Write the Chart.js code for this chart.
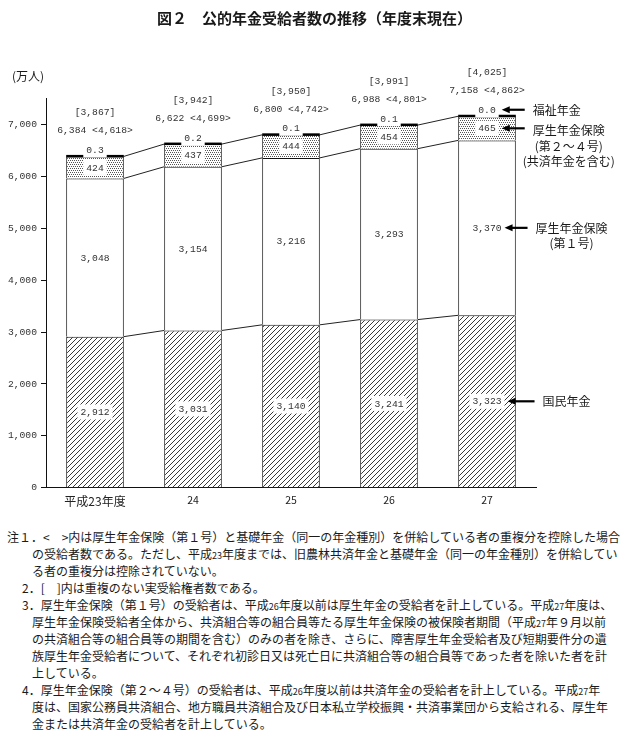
<!DOCTYPE html>
<html lang="ja">
<head>
<meta charset="utf-8">
<title>図２ 公的年金受給者数の推移</title>
<script src="https://cdn.jsdelivr.net/npm/chart.js@4.4.1/dist/chart.umd.min.js"></script>
<style>
  html, body { margin: 0; padding: 0; background: #fff; }
  body { width: 629px; height: 740px; position: relative; overflow: hidden;
         font-family: "Noto Sans CJK JP", sans-serif; color: #1a1a1a; }
  #wrap { position: absolute; left: 0; top: 0; width: 629px; height: 515px; }
  #title { position: absolute; top: 7px; left: 0; width: 629px; text-align: center;
           font-size: 15px; font-weight: 700; line-height: 22px; }
  #unit { position: absolute; left: 12px; top: 67px; font-size: 12px; line-height: 17px; }
  #notes { position: absolute; left: 0; top: 528px; font-size: 12px; }
  #notes div { white-space: nowrap; height: 17px; line-height: 17px; }
  .n0 { padding-left: 7px; }
  .n1 { padding-left: 22px; }
  .nc { padding-left: 32px; }
  .sm { font-size: 9px; line-height: 1; }
</style>
</head>
<body>
<div id="wrap"><canvas id="chart" width="629" height="515"></canvas></div>
<div id="title">図２　公的年金受給者数の推移（年度末現在）</div>
<div id="unit">(万人)</div>
<div id="notes">
  <div class="n0">注１．&lt;　&gt;内は厚生年金保険（第１号）と基礎年金（同一の年金種別）を併給している者の重複分を控除した場合</div>
  <div class="nc">の受給者数である。ただし、平成<span class="sm">23</span>年度までは、旧農林共済年金と基礎年金（同一の年金種別）を併給してい</div>
  <div class="nc">る者の重複分は控除されていない。</div>
  <div class="n1">2．[　]内は重複のない実受給権者数である。</div>
  <div class="n1">3．厚生年金保険（第１号）の受給者は、平成<span class="sm">26</span>年度以前は厚生年金の受給者を計上している。平成<span class="sm">27</span>年度は、</div>
  <div class="nc">厚生年金保険受給者全体から、共済組合等の組合員等たる厚生年金保険の被保険者期間（平成<span class="sm">27</span>年９月以前</div>
  <div class="nc">の共済組合等の組合員等の期間を含む）のみの者を除き、さらに、障害厚生年金受給者及び短期要件分の遺</div>
  <div class="nc">族厚生年金受給者について、それぞれ初診日又は死亡日に共済組合等の組合員等であった者を除いた者を計</div>
  <div class="nc">上している。</div>
  <div class="n1">4．厚生年金保険（第２～４号）の受給者は、平成<span class="sm">26</span>年度以前は共済年金の受給者を計上している。平成<span class="sm">27</span>年</div>
  <div class="nc">度は、国家公務員共済組合、地方職員共済組合及び日本私立学校振興・共済事業団から支給される、厚生年</div>
  <div class="nc">金または共済年金の受給者を計上している。</div>
</div>
<script>
// data (万人)
const years = ['平成23年度', '24', '25', '26', '27'];
const kokumin = [2912, 3031, 3140, 3241, 3323];
const kosei1 = [3048, 3154, 3216, 3293, 3370];
const kosei24 = [424, 437, 444, 454, 465];
const fukushi = [0.3, 0.2, 0.1, 0.1, 0.0];
const totals = [6384, 6622, 6800, 6988, 7158];
const dedup = [4618, 4699, 4742, 4801, 4862];
const actual = [3867, 3942, 3950, 3991, 4025];
const yTicks = [0, 1000, 2000, 3000, 4000, 5000, 6000, 7000];
const yMax = 7500;

// callouts on the right, pointing at the last bar
const callouts = [
  { ds: 3, lines: ['福祉年金'] },
  { ds: 2, lines: ['厚生年金保険', '(第２～４号)', '(共済年金を含む)'] },
  { ds: 1, lines: ['厚生年金保険', '(第１号)'] },
  { ds: 0, lines: ['国民年金'] }
];

const numFont = '9.7px "Liberation Mono", "DejaVu Sans Mono", monospace';
const jpFont = '12px "Noto Sans CJK JP", sans-serif';
const fmt = v => v.toLocaleString('en-US');

function hatchPattern() {
  const c = document.createElement('canvas');
  c.width = 5; c.height = 5;
  const g = c.getContext('2d');
  g.fillStyle = '#fff';
  g.fillRect(0, 0, 5, 5);
  g.strokeStyle = '#222';
  g.lineWidth = 0.9;
  g.beginPath();
  g.moveTo(-1, 6); g.lineTo(6, -1);
  g.moveTo(-1, 1); g.lineTo(1, -1);
  g.moveTo(4, 6); g.lineTo(6, 4);
  g.stroke();
  return g.createPattern(c, 'repeat');
}

function dotPattern() {
  const c = document.createElement('canvas');
  c.width = 4; c.height = 4;
  const g = c.getContext('2d');
  g.fillStyle = '#fff';
  g.fillRect(0, 0, 4, 4);
  g.fillStyle = '#555';
  [[0, 0], [2, 0], [1, 2], [3, 2]].forEach(([x, y]) => g.fillRect(x, y, 1, 1));
  return g.createPattern(c, 'repeat');
}

function boxLabel(ctx, text, x, y, bg) {
  ctx.font = numFont;
  const w = ctx.measureText(text).width;
  if (bg) {
    ctx.fillStyle = '#fff';
    ctx.fillRect(x - w / 2 - 3, y - 7.5, w + 6, 15);
  }
  ctx.fillStyle = '#333';
  ctx.fillText(text, x, y + 0.5);
  return x + w / 2 + (bg ? 3 : 0);
}

const barDecor = {
  id: 'barDecor',
  afterDatasetsDraw(chart) {
    const ctx = chart.ctx;
    const bars = chart.data.datasets.map((d, i) =>
      chart.getDatasetMeta(i).data.map(el => el.getProps(['x', 'y', 'base', 'width'], true)));
    const n = years.length;

    ctx.save();
    // series lines between bars
    ctx.strokeStyle = '#222';
    ctx.lineWidth = 1;
    [0, 1, 3].forEach(di => {
      for (let i = 0; i < n - 1; i++) {
        const a = bars[di][i], b = bars[di][i + 1];
        ctx.beginPath();
        ctx.moveTo(a.x + a.width / 2, a.y);
        ctx.lineTo(b.x - b.width / 2, b.y);
        ctx.stroke();
      }
    });

    // 福祉年金: a thick line on top of each stack
    ctx.fillStyle = '#000';
    bars[3].forEach(b => ctx.fillRect(b.x - b.width / 2, b.y - 1.5, b.width, 2.5));

    ctx.textAlign = 'center';
    ctx.textBaseline = 'middle';
    const rightEdge = {};
    const labelY = {};

    // segment labels
    [[0, kokumin, true], [1, kosei1, false], [2, kosei24, true]].forEach(([di, vals, bg]) => {
      bars[di].forEach((b, i) => {
        const y = (b.y + b.base) / 2;
        const r = boxLabel(ctx, fmt(vals[i]), b.x, y, bg);
        if (i === n - 1) { rightEdge[di] = r; labelY[di] = y; }
      });
    });
    bars[3].forEach((b, i) => {
      const y = b.y - 6.5;
      const r = boxLabel(ctx, fukushi[i].toFixed(1), b.x, y, true);
      if (i === n - 1) { rightEdge[3] = r; labelY[3] = y; }
    });

    // totals above the bars
    ctx.font = numFont;
    ctx.fillStyle = '#333';
    bars[3].forEach((b, i) => {
      ctx.fillText(`${fmt(totals[i])} <${fmt(dedup[i])}>`, b.x, b.y - 25.5);
      ctx.fillText(`[${fmt(actual[i])}]`, b.x, b.y - 43.5);
    });

    // callouts with arrows
    callouts.forEach(c => {
      const y = labelY[c.ds];
      const head = rightEdge[c.ds] + 3;
      const tail = head + (c.ds === 0 ? 27 : 23);
      ctx.strokeStyle = '#000';
      ctx.lineWidth = 2.2;
      ctx.beginPath();
      ctx.moveTo(head + 6, y);
      ctx.lineTo(tail, y);
      ctx.stroke();
      ctx.fillStyle = '#000';
      ctx.beginPath();
      ctx.moveTo(head, y);
      ctx.lineTo(head + 8, y - 3.5);
      ctx.lineTo(head + 8, y + 3.5);
      ctx.closePath();
      ctx.fill();

      ctx.font = jpFont;
      ctx.fillStyle = '#1a1a1a';
      const tx = tail + 8;
      const w0 = ctx.measureText(c.lines[0]).width;
      const cx = tx + w0 / 2;
      c.lines.forEach((line, k) => {
        const ly = y + (c.lines.length > 2 ? 2.5 : 0.5) + k * 15.5;
        ctx.textAlign = 'center';
        ctx.fillText(line, cx, ly);
      });
    });
    ctx.restore();
  }
};

const ctx = document.getElementById('chart').getContext('2d');
new Chart(ctx, {
  type: 'bar',
  data: {
    labels: years,
    datasets: [
      { label: '国民年金', data: kokumin, backgroundColor: hatchPattern(), borderColor: '#111', borderWidth: 1 },
      { label: '厚生年金保険(第１号)', data: kosei1, backgroundColor: '#fff', borderColor: '#111', borderWidth: 1 },
      { label: '厚生年金保険(第２～４号)', data: kosei24, backgroundColor: dotPattern(), borderColor: '#111', borderWidth: 1 },
      { label: '福祉年金', data: fukushi, backgroundColor: '#000', borderWidth: 0 }
    ]
  },
  options: {
    responsive: false,
    animation: false,
    events: [],
    barPercentage: 0.588,
    categoryPercentage: 1,
    layout: { padding: { top: 98.5, right: 93, left: 0, bottom: 0 } },
    plugins: { legend: { display: false }, tooltip: { enabled: false } },
    scales: {
      x: {
        stacked: true,
        grid: { display: false, drawTicks: false },
        border: { display: true, color: '#111', width: 1 },
        ticks: {
          padding: 6,
          color: '#222',
          font: c => ({ family: '"Noto Sans CJK JP", sans-serif', size: c.index === 0 ? 12 : 10.5 })
        },
        afterFit(s) { s.height = 27.2; }
      },
      y: {
        stacked: true,
        min: 0,
        max: yMax,
        grid: { drawOnChartArea: false, drawTicks: true, tickLength: 5, color: '#111' },
        border: { display: true, color: '#111', width: 1 },
        ticks: {
          autoSkip: false,
          padding: 4,
          color: '#333',
          font: { family: '"Liberation Mono", "DejaVu Sans Mono", monospace', size: 9.7 },
          callback: v => fmt(v)
        },
        afterBuildTicks(s) { s.ticks = yTicks.map(v => ({ value: v })); },
        afterFit(s) { s.width = 46; }
      }
    }
  },
  plugins: [barDecor]
});
</script>
</body>
</html>
